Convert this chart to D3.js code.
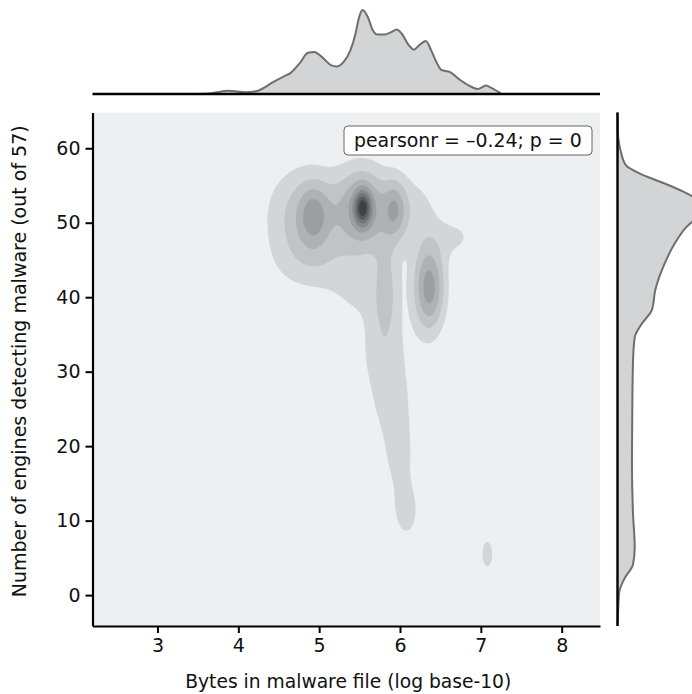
<!DOCTYPE html>
<html><head><meta charset="utf-8">
<script src="https://cdn.jsdelivr.net/npm/d3@7"></script>
<style>
html,body{margin:0;padding:0;background:#fff;}
svg{display:block;}
text{font-family:"DejaVu Sans",sans-serif;fill:#111;}
</style></head>
<body>
<script>
// ---------- DATA ----------
const xTicks = [3, 4, 5, 6, 7, 8];
const yTicks = [0, 10, 20, 30, 40, 50, 60];
const xLabel = "Bytes in malware file (log base-10)";
const yLabel = "Number of engines detecting malware (out of 57)";
const statText = "pearsonr = \u20130.24; p = 0";

// joint density: gaussian bumps (centre, spread, peak height)
//              P     A_core A_halo B_shp  B_mid  C      R      RB     D      Tongue LL     LB     T1     T2     T3     T4     E
const bumpX  = [5.45, 4.93,  4.75,  5.54,  5.54,  5.94,  6.70,  6.20,  6.36,  5.83,  5.00,  5.45,  5.78,  5.89,  5.99,  6.08,  7.08];
const bumpY  = [51.5, 51.0,  50.5,  52.0,  52.0,  51.8,  48.0,  52.0,  41.3,  41.0,  44.5,  40.0,  33.0,  26.0,  18.5,  11.0,  5.5];
const bumpSX = [0.55, 0.13,  0.30,  0.07,  0.19,  0.10,  0.20,  0.18,  0.14,  0.12,  0.40,  0.25,  0.24,  0.21,  0.16,  0.13,  0.073];
const bumpSY = [4.2,  2.8,   5.0,   1.6,   3.8,   2.8,   2.0,   3.0,   4.2,   4.5,   3.0,   3.0,   4.0,   4.0,   4.0,   3.0,   2.0];
const bumpH  = [2.0,  2.2,   1.6,   4.5,   2.5,   2.4,   1.0,   0.6,   4.5,   2.0,   1.0,   0.8,   1.2,   1.2,   1.2,   1.3,   1.4];
const levels = [1, 2, 3, 4, 5, 6, 7, 8, 9];
const levelColors = ["#d4d5d7", "#c2c3c5", "#b0b1b3", "#9d9ea0", "#88898b", "#727375", "#5a5b5d", "#404142", "#1c1c1c"];

// top marginal density (x = log10 bytes, relative density)
const topX = [2.2, 3.5, 3.665, 3.878, 4.09, 4.217, 4.43, 4.558, 4.643, 4.77, 4.856, 4.94, 5.025, 5.153, 5.216, 5.30, 5.386, 5.45, 5.49, 5.536, 5.60, 5.663, 5.727, 5.81, 5.896, 5.96, 6.02, 6.11, 6.173, 6.237, 6.32, 6.386, 6.45, 6.51, 6.62, 6.726, 6.853, 6.96, 7.065, 7.13, 7.257, 8.47];
const topD = [0, 0, 0.008, 0.04, 0.02, 0.032, 0.14, 0.208, 0.248, 0.38, 0.488, 0.50, 0.448, 0.34, 0.328, 0.38, 0.52, 0.72, 0.90, 1.0, 0.92, 0.76, 0.708, 0.708, 0.74, 0.768, 0.72, 0.58, 0.528, 0.58, 0.632, 0.52, 0.38, 0.288, 0.26, 0.18, 0.10, 0.06, 0.10, 0.072, 0, 0];

// right marginal density (y = engines, relative density)
const rightY = [64.8, 62, 60.5, 59.5, 57.7, 56.5, 55.4, 54.2, 53.1, 52.0, 50.8, 49.4, 47.1, 44.3, 41.0, 38.3, 36.4, 34.6, 31.3, 24.9, 17.9, 11.0, 6.4, 4.1, 2.2, 0.4, -1.9, -4.15];
const rightD = [0, 0.005, 0.02, 0.04, 0.10, 0.28, 0.52, 0.76, 0.93, 1.0, 0.93, 0.80, 0.66, 0.54, 0.44, 0.40, 0.28, 0.20, 0.18, 0.172, 0.168, 0.18, 0.20, 0.18, 0.08, 0.02, 0.008, 0];

// ---------- LAYOUT ----------
const W = 692, H = 694;
const main = {l: 92.5, r: 600, t: 112.5, b: 626};
const xDomain = [2.196, 8.474], yDomain = [-4.15, 64.8];

const svg = d3.select("body").append("svg").attr("width", W).attr("height", H);
const x = d3.scaleLinear().domain(xDomain).range([main.l, main.r]);
const y = d3.scaleLinear().domain(yDomain).range([main.b, main.t]);

svg.append("rect").attr("x", main.l).attr("y", main.t)
  .attr("width", main.r - main.l).attr("height", main.b - main.t).attr("fill", "#eeeff0");

// density grid
const nx = 320, ny = 320;
const grid = new Float64Array(nx * ny);
for (let j = 0; j < ny; j++) {
  const gy = yDomain[0] + (j + 0.5) * (yDomain[1] - yDomain[0]) / ny;
  for (let i = 0; i < nx; i++) {
    const gx = xDomain[0] + (i + 0.5) * (xDomain[1] - xDomain[0]) / nx;
    let s = 0;
    for (let k = 0; k < bumpX.length; k++) {
      const dx = (gx - bumpX[k]) / bumpSX[k], dy = (gy - bumpY[k]) / bumpSY[k];
      s += bumpH[k] * Math.exp(-0.5 * (dx * dx + dy * dy));
    }
    grid[j * nx + i] = s;
  }
}
const contours = d3.contours().size([nx, ny]).thresholds(levels)(grid);
const proj = d3.geoTransform({
  point: function(px, py) {
    this.stream.point(
      x(xDomain[0] + px * (xDomain[1] - xDomain[0]) / nx),
      y(yDomain[0] + py * (yDomain[1] - yDomain[0]) / ny));
  }
});
const path = d3.geoPath(proj);
svg.append("g").selectAll("path").data(contours).join("path")
  .attr("d", path)
  .attr("fill", (d, i) => levelColors[i]);

// axes
const axisStyle = g => {
  g.selectAll(".domain").attr("stroke", "#000").attr("stroke-width", 2.2);
  g.selectAll(".tick line").attr("stroke", "#000").attr("stroke-width", 2);
  g.selectAll(".tick text").style("font-size", "19px").attr("fill", "#111");
};
svg.append("g").attr("transform", `translate(0,${main.b})`)
  .call(d3.axisBottom(x).tickValues(xTicks).tickFormat(d3.format("d")).tickSize(7).tickSizeOuter(0).tickPadding(6))
  .call(axisStyle);
svg.append("g").attr("transform", `translate(${main.l},0)`)
  .call(d3.axisLeft(y).tickValues(yTicks).tickFormat(d3.format("d")).tickSize(7).tickSizeOuter(0).tickPadding(5))
  .call(axisStyle);

svg.append("text").attr("x", (main.l + main.r) / 2 + 2).attr("y", 688)
  .attr("text-anchor", "middle").style("font-size", "18.7px").text(xLabel);
svg.append("text").attr("transform", `translate(26,${(main.t + main.b) / 2 - 8}) rotate(-90)`)
  .attr("text-anchor", "middle").style("font-size", "19px").text(yLabel);

// stat box
svg.append("rect").attr("x", 344).attr("y", 126).attr("width", 248).attr("height", 29)
  .attr("rx", 4).attr("fill", "#fff").attr("stroke", "#666").attr("stroke-width", 1);
svg.append("text").attr("x", 354).attr("y", 146.5).style("font-size", "18.9px").text(statText);

// top marginal
const topBase = 94, topPeak = 10;
const yt = d3.scaleLinear().domain([0, 1]).range([topBase, topPeak]);
const topPts = topX.map((v, i) => [v, topD[i]]);
svg.append("path").datum(topPts)
  .attr("d", d3.area().x(d => x(d[0])).y0(topBase).y1(d => yt(d[1])).curve(d3.curveMonotoneX))
  .attr("fill", "#d3d4d6");
svg.append("path").datum(topPts.filter(d => d[0] > 3.4 && d[0] < 7.3))
  .attr("d", d3.line().x(d => x(d[0])).y(d => yt(d[1])).curve(d3.curveMonotoneX))
  .attr("fill", "none").attr("stroke", "#6e6e6e").attr("stroke-width", 2);
svg.append("line").attr("x1", main.l).attr("x2", main.r).attr("y1", topBase).attr("y2", topBase)
  .attr("stroke", "#000").attr("stroke-width", 2.4);

// right marginal
const rightBase = 617.5;
const xr = d3.scaleLinear().domain([0, 1]).range([rightBase, rightBase + 86]);
const rightPts = rightY.map((v, i) => [v, rightD[i]]);
svg.append("path").datum(rightPts)
  .attr("d", d3.area().y(d => y(d[0])).x0(rightBase).x1(d => xr(d[1])).curve(d3.curveMonotoneY))
  .attr("fill", "#d3d4d6");
svg.append("path").datum(rightPts)
  .attr("d", d3.line().y(d => y(d[0])).x(d => xr(d[1])).curve(d3.curveMonotoneY))
  .attr("fill", "none").attr("stroke", "#6e6e6e").attr("stroke-width", 2);
svg.append("line").attr("x1", rightBase).attr("x2", rightBase).attr("y1", main.t).attr("y2", main.b)
  .attr("stroke", "#000").attr("stroke-width", 2.4);
</script>
</body></html>
